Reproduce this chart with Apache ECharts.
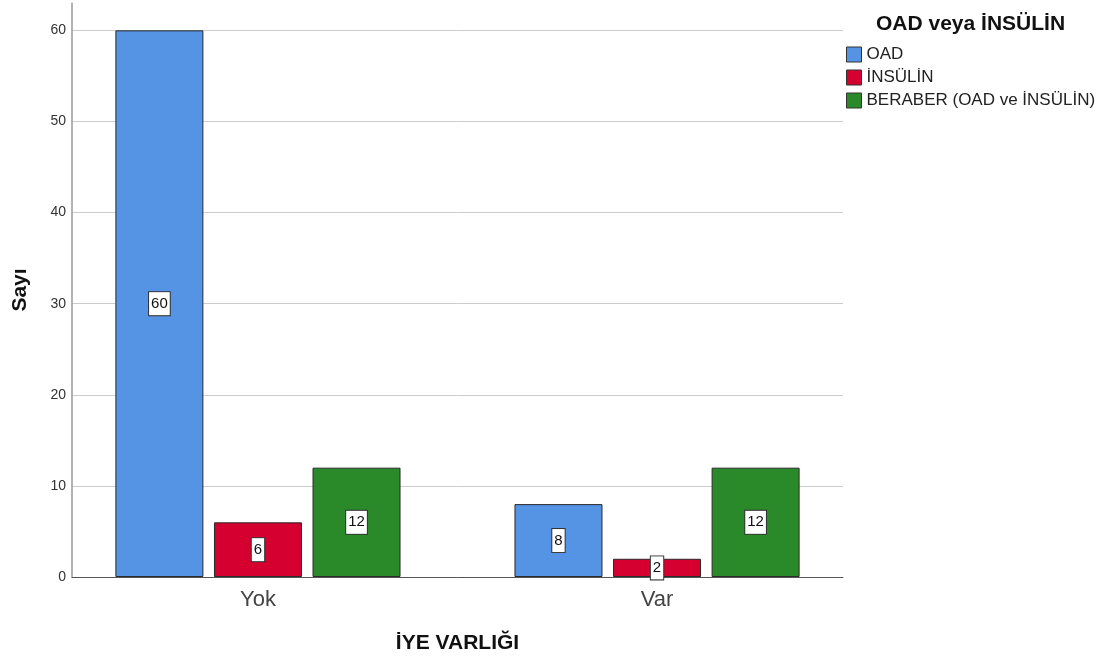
<!DOCTYPE html>
<html><head><meta charset="utf-8">
<script src="https://cdn.jsdelivr.net/npm/echarts@6/dist/echarts.min.js"></script>
<style>html,body{margin:0;padding:0;background:#fff}#c{width:1117px;height:662px}</style>
</head><body><div id="c"></div>
<script>
const categories = ['Yok', 'Var'];
const seriesNames = ['OAD', 'İNSÜLİN', 'BERABER (OAD ve İNSÜLİN)'];
const oad = [60, 8];
const insulin = [6, 2];
const beraber = [12, 12];
const yTicks = [0, 10, 20, 30, 40, 50, 60];
const colors = ['#5593e4', '#d5002f', '#2a8a2a'];

const values = [oad, insulin, beraber];
const chart = echarts.init(document.getElementById('c'));
const F = 'Liberation Sans, Arial, sans-serif';
chart.setOption({
  animation: false,
  textStyle: {fontFamily: F},
  grid: {left: 72, right: 274, top: 3, bottom: 85},
  title: {text: 'OAD veya İNSÜLİN', left: 871, top: 9, textStyle: {fontFamily: F, fontSize: 21, fontWeight: 'bold', color: '#111'}},
  legend: {
    orient: 'vertical', left: 846, top: 46, padding: 0, itemWidth: 15, itemHeight: 15, itemGap: 6,
    icon: 'rect',
    data: seriesNames,
    textStyle: {fontFamily: F, fontSize: 17, color: '#222'},
    itemStyle: {borderColor: '#333', borderWidth: 1}
  },
  xAxis: {
    type: 'value', min: -0.466, max: 1.466,
    name: 'İYE VARLIĞI', nameLocation: 'middle', nameGap: 56,
    nameTextStyle: {fontFamily: F, fontSize: 21, fontWeight: 'bold', color: '#111'},
    axisLine: {show: true, onZero: false, lineStyle: {color: '#555', width: 1}},
    axisTick: {show: false},
    splitLine: {show: false},
    axisLabel: {customValues: [0, 1], formatter: v => categories[Math.round(v)], fontSize: 22, color: '#444', margin: 12, fontFamily: F}
  },
  yAxis: {
    type: 'value', min: 0, max: 63, interval: 10,
    name: 'Sayı', nameLocation: 'middle', nameGap: 41, nameRotate: 90,
    nameTextStyle: {fontFamily: F, fontSize: 21, fontWeight: 'bold', color: '#111'},
    axisLine: {show: true, onZero: false, lineStyle: {color: '#999', width: 1.5}},
    axisTick: {show: false},
    axisLabel: {customValues: yTicks, fontSize: 14, color: '#333', margin: 6, fontFamily: F},
    splitLine: {show: true, showMaxLine: false, lineStyle: {color: '#cccccc', width: 1}}
  },
  series: seriesNames.map((n, i) => ({
    name: n, type: 'bar',
    data: values[i].map((v, j) => [j, v]),
    barWidth: 88, barGap: '12%',
    itemStyle: {color: colors[i], borderColor: '#2a2a2a', borderWidth: 1},
    label: {
      show: true, position: 'inside', formatter: p => p.value[1],
      color: '#111', fontSize: 15, fontFamily: F,
      backgroundColor: '#fff', borderColor: '#333', borderWidth: 1, padding: [5, 2, 3, 2]
    }
  }))
});
</script></body></html>
